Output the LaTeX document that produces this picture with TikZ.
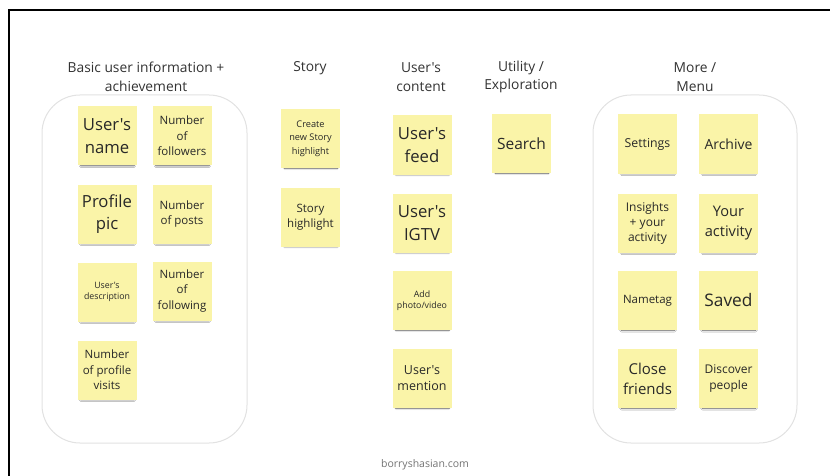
\documentclass[tikz,border=0pt]{standalone}
\usepackage{fontspec}
\newfontfamily\osans{Open Sans}
\setmainfont{Open Sans}
\usetikzlibrary{shadows.blur}
\definecolor{noteyellow}{RGB}{250,244,168}
\definecolor{inktext}{RGB}{40,40,40}
\definecolor{headtext}{RGB}{50,50,50}
\definecolor{groupline}{RGB}{226,226,226}
\definecolor{footgray}{RGB}{115,115,115}
\newcommand{\fs}[2]{\osans\fontsize{#1}{#2}\selectfont}
\tikzset{
  sticky/.style={rectangle, fill=noteyellow, minimum width=59pt, minimum height=59pt,
    inner sep=1pt, align=center, text=inktext,
    blur shadow={shadow xshift=0.5pt, shadow yshift=-3.5pt, shadow scale=0.9,
      shadow opacity=70, shadow blur radius=2pt, shadow blur steps=6}},
  group/.style={draw=groupline, line width=1pt, fill=white, rounded corners=38pt},
  heading/.style={align=center, text=headtext, font=\fs{13.8}{18.5}},
  big/.style={font=\fs{16.7}{22.5}},
  small/.style={font=\fs{11.5}{15.5}},
  tiny/.style={font=\fs{8.8}{11.5}},
}
\begin{document}
\begin{tikzpicture}[x=1pt, y=-1pt]
\useasboundingbox (0,0) rectangle (830,476);
% frame edges
\draw[line width=2pt, line cap=rect] (8.5,476) -- (8.5,9.8) -- (830,9.8);

% group panels
\draw[group] (42,95) rectangle (247,443);
\draw[group] (593,95) rectangle (797,443);

% column headings
\node[heading] (hbasic) at (146,77) {Basic user information +\\achievement};
\node[heading] (hstory) at (310,68) {Story};
\node[heading] (hcontent) at (421,77) {User's\\content};
\node[heading] (hutil) at (521,77) {Utility /\\Exploration};
\node[heading] (hmore) at (695,77) {More /\\Menu};

% basic user information + achievement
\node[sticky, big] (uname) at (107,136) {User's\\name};
\node[sticky, small] (nfollowers) at (182,136) {Number\\of\\followers};
\node[sticky, big] (ppic) at (107,214) {Profile\\pic};
\node[sticky, small] (nposts) at (182,214) {Number\\of posts};
\node[sticky, tiny] (udesc) at (107,292) {User's\\description};
\node[sticky, small] (nfollowing) at (182,291) {Number\\of\\following};
\node[sticky, small] (nvisits) at (107,370) {Number\\of profile\\visits};

% story
\node[sticky, font=\fs{9.2}{13.5}] (newstory) at (310.5,138.5) {Create\\new Story\\highlight};
\node[sticky, small] (storyhl) at (310.5,217) {Story\\highlight};

% user's content
\node[sticky, big] (feed) at (422,145) {User's\\feed};
\node[sticky, big] (igtv) at (422,223) {User's\\IGTV};
\node[sticky, tiny] (addphoto) at (422,300.5) {Add\\photo/video};
\node[sticky, font=\fs{12.5}{16}] (mention) at (422,378.5) {User's\\mention};

% utility / exploration
\node[sticky, font=\fs{15.5}{19}] (search) at (521.5,143.5) {Search};

% more / menu
\node[sticky, font=\fs{12.3}{16}] (settings) at (647.5,144) {Settings};
\node[sticky, font=\fs{14}{18}] (archive) at (728.5,144) {Archive};
\node[sticky, font=\fs{12}{15}] (insights) at (647.5,223) {Insights\\+ your\\activity};
\node[sticky, font=\fs{14.6}{20}] (youract) at (728.5,223) {Your\\activity};
\node[sticky, font=\fs{11.5}{14}] (nametag) at (647.5,300.5) {Nametag};
\node[sticky, font=\fs{17.3}{22}] (saved) at (728.5,300.5) {Saved};
\node[sticky, font=\fs{15}{20}] (closefr) at (647.5,378.5) {Close\\friends};
\node[sticky, font=\fs{12}{16}] (discover) at (728.5,378.5) {Discover\\people};

% footer
\node[text=footgray, font=\fs{10.5}{12}] (footer) at (425,465) {borryshasian.com};
\end{tikzpicture}
\end{document}
